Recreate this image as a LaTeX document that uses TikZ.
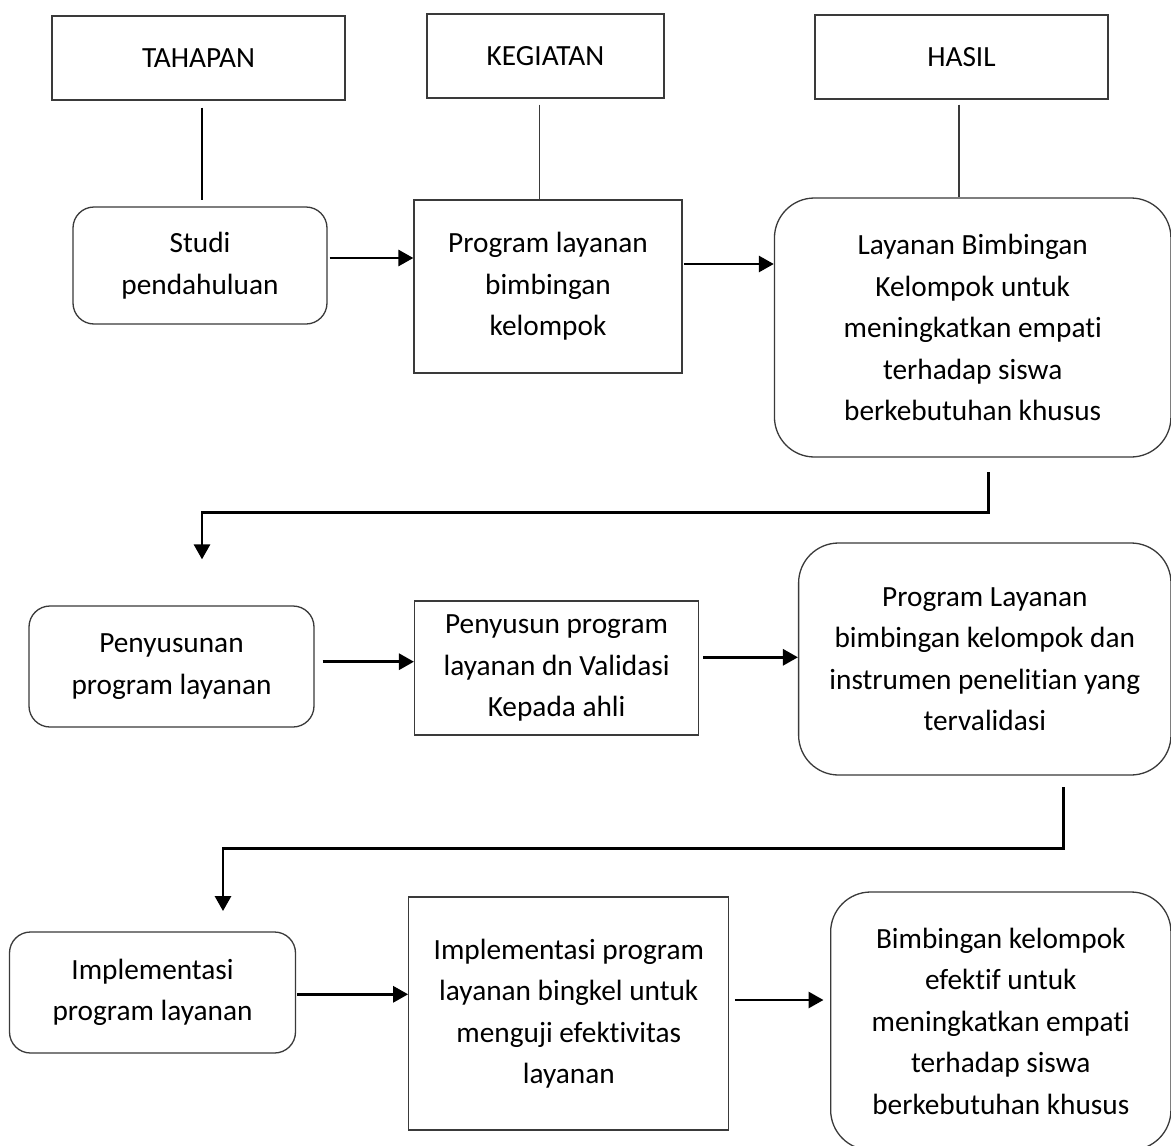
\documentclass[tikz,border=0pt]{standalone}
\usepackage{fontspec}
\setmainfont{Carlito}[Ligatures=NoCommon]
\usetikzlibrary{arrows.meta,calc}
\definecolor{boxc}{HTML}{3A3A3A}
\begin{document}
\begin{tikzpicture}[x=1pt,y=-1pt,
  box/.style={draw=boxc, line width=1.3pt, inner sep=0pt, align=center,
    font=\fontsize{29.3pt}{41.5pt}\selectfont, text=black},
  sq/.style={box},
  rnd/.style={box, rounded corners=#1},
  rnd/.default=21pt,
  hline/.style={draw=black, line width=1.7pt},
  conn/.style={draw=black, line width=2.9pt, line join=miter},
  arr/.style={conn, -{Triangle[length=15pt,width=16pt]}}]
\useasboundingbox (0,0) rectangle (1171,1146);
\clip (0,0) rectangle (1171,1146);
\fill[white] (0,0) rectangle (1171,1146);

% header boxes
\node[sq, minimum width=293pt, minimum height=84pt] (tah) at (198.5,58) {TAHAPAN};
\node[sq, minimum width=237pt, minimum height=84pt] (keg) at (545.5,56) {KEGIATAN};
\node[sq, minimum width=293pt, minimum height=84pt] (has) at (961.5,57) {HASIL};

% row 1
\node[rnd, minimum width=254pt, minimum height=117pt] (studi) at (200,265.5) {Studi\\pendahuluan};
\node[sq, minimum width=268pt, minimum height=173pt] (prog) at (548,286.5) {Program layanan\\bimbingan\\kelompok};
\node[rnd=40pt, minimum width=396.5pt, minimum height=259pt] (lay) at (972.7,327.5) {Layanan Bimbingan\\Kelompok untuk\\meningkatkan empati\\terhadap siswa\\berkebutuhan khusus};

% row 2
\node[rnd, minimum width=285pt, minimum height=121pt] (peny) at (171.5,666.5) {Penyusunan\\program layanan};
\node[sq, minimum width=284pt, minimum height=134pt] (penyv) at (556.6,668) {Penyusun program\\layanan dn Validasi\\Kepada ahli};
\node[rnd=40pt, minimum width=372.4pt, minimum height=232pt] (plv) at (984.8,659) {Program Layanan\\bimbingan kelompok dan\\instrumen penelitian yang\\tervalidasi};

% row 3
\node[rnd, minimum width=286pt, minimum height=121pt] (impl) at (152.5,992.5) {Implementasi\\program layanan};
\node[sq, minimum width=320pt, minimum height=233pt] (implv) at (568.8,1013.5) {Implementasi program\\layanan bingkel untuk\\menguji efektivitas\\layanan};
\node[rnd=40pt, minimum width=340.3pt, minimum height=258pt] (bimb) at (1000.8,1021) {Bimbingan kelompok\\efektif untuk\\meningkatkan empati\\terhadap siswa\\berkebutuhan khusus};

% header lines
\draw[hline] ($(tah.south)+(3.5,7)$) -- ($(tah.south |- studi.north)+(3.5,-6)$);
\draw[hline, draw=boxc, line width=1.5pt] ($(keg.south)+(-6,6)$) -- ($(keg.south |- prog.north)+(-6,0)$);
\draw[hline, draw=boxc, line width=1.5pt] ($(has.south)+(-2.3,5)$) -- ($(has.south |- lay.north)+(-2.3,0)$);

% horizontal arrows
\draw[arr] ($(studi.east)+(2,-7.5)$) -- ($(prog.west |- studi.east)+(0,-7.5)$);
\draw[arr] ($(prog.east)+(1.2,-22.5)$) -- ($(lay.west |- prog.east)+(0,-22.5)$);
\draw[arr] ($(peny.east)+(8,-4.8)$) -- ($(penyv.west |- peny.east)+(0,-4.8)$);
\draw[arr] ($(penyv.east)+(3.8,-10.7)$) -- ($(plv.west |- penyv.east)+(0,-10.7)$);
\draw[arr] ($(impl.east)+(1.2,1.8)$) -- ($(implv.west |- impl.east)+(0,1.8)$);
\draw[arr] ($(implv.east)+(5.5,-13.5)$) -- ($(bimb.west |- implv.east)+(-6.5,-13.5)$);

% elbow connectors
\draw[arr] ($(lay.south)+(15.5,14.7)$) -- ++(0,40) -| ($(peny.north)+(30.5,-46)$);
\draw[arr] ($(plv.south)+(78.8,11.7)$) -- ++(0,61) -| ($(impl.north)+(70.5,-20.3)$);
\end{tikzpicture}
\end{document}
